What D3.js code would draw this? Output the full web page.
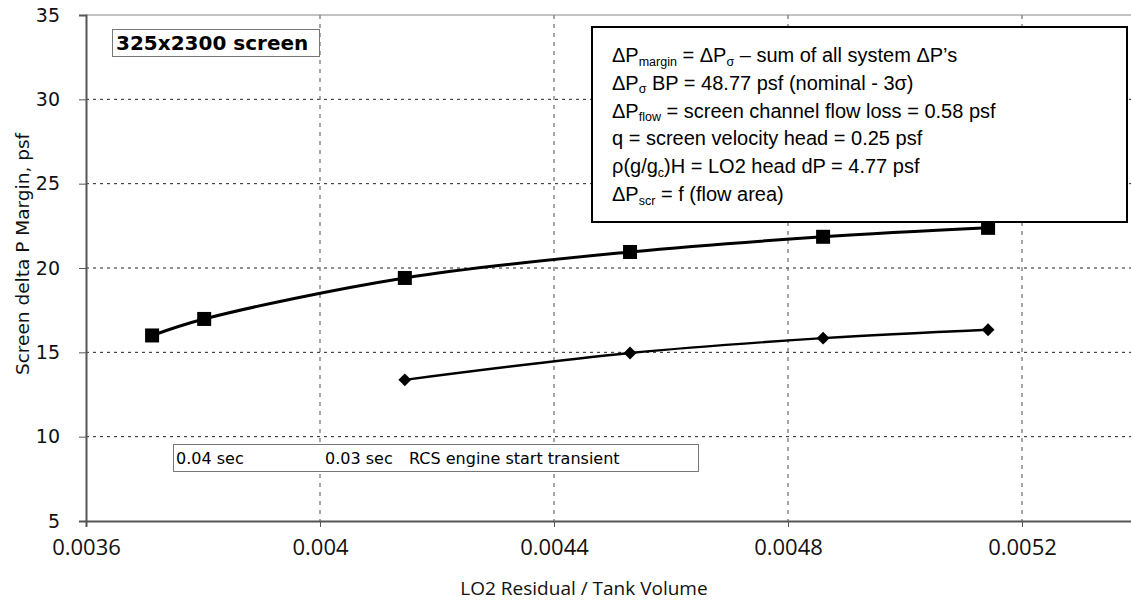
<!DOCTYPE html>
<html><head><meta charset="utf-8">
<script src="https://cdn.jsdelivr.net/npm/d3@7"></script>
<style>body{margin:0;background:#fff}svg{display:block}</style>
</head><body>
<script>
// ---- data ----
const squareX = [0.003713, 0.003802, 0.004145, 0.00453, 0.00486, 0.005142];
const squareY = [16.0, 16.98, 19.41, 20.95, 21.85, 22.38];
const diamondX = [0.004145, 0.00453, 0.00486, 0.005142];
const diamondY = [13.37, 14.96, 15.84, 16.34];
const xTicks = [0.0036, 0.004, 0.0044, 0.0048, 0.0052];
const yTicks = [5, 10, 15, 20, 25, 30, 35];
const xTitle = "LO2 Residual / Tank Volume";
const yTitle = "Screen delta P Margin, psf";
const boxLabel = "325x2300 screen";
const legendTexts = ["0.04 sec", "0.03 sec", "RCS engine start transient"];
const noteLines = [
  [["ΔP",""],["margin","sub"],[" = ΔP",""],["σ","sub"],[" – sum of all system ΔP’s",""]],
  [["ΔP",""],["σ","sub"],[" BP = 48.77 psf (nominal - 3σ)",""]],
  [["ΔP",""],["flow","sub"],[" = screen channel flow loss = 0.58 psf",""]],
  [["q = screen velocity head = 0.25 psf",""]],
  [["ρ(g/g",""],["c","sub"],[")H = LO2 head dP = 4.77 psf",""]],
  [["ΔP",""],["scr","sub"],[" = f (flow area)",""]]
];

const W = 1131, H = 607;
const L = 86, T = 15, B = 521;
const svg = d3.select("body").append("svg").attr("width", W).attr("height", H);

const x = d3.scaleLinear().domain([0.0036, 0.0054]).range([L, L + (1022 - 86) / 1.6 * 1.8]);
const y = d3.scaleLinear().domain([5, 35]).range([B, T]);

// grid
svg.append("g").selectAll("line").data(yTicks.filter(d => d > 5 && d < 35)).join("line")
  .attr("x1", L).attr("x2", W).attr("y1", d => y(d)).attr("y2", d => y(d))
  .attr("stroke", "#222").attr("stroke-width", 1).attr("stroke-dasharray", "3,4");
svg.append("g").selectAll("line").data(xTicks.slice(1)).join("line")
  .attr("x1", d => x(d)).attr("x2", d => x(d)).attr("y1", T).attr("y2", B)
  .attr("stroke", "#777").attr("stroke-width", 1.3).attr("stroke-dasharray", "4,5");

// top border
svg.append("line").attr("x1", L).attr("x2", W).attr("y1", T).attr("y2", T).attr("stroke", "#888").attr("stroke-width", 1);

// axes
const xAxis = d3.axisBottom(x).tickValues(xTicks).tickFormat(d => String(+d.toFixed(4))).tickSize(6).tickPadding(12);
const gx = svg.append("g").attr("transform", `translate(0,${B})`).call(xAxis);
gx.select(".domain").attr("stroke", "#555").attr("stroke-width", 2);
gx.selectAll(".tick line").attr("stroke", "#555").attr("stroke-width", 1);
gx.selectAll("text").attr("font-family", "Open Sans").attr("font-size", 22).attr("fill", "#111");

const yAxis = d3.axisLeft(y).tickValues(yTicks).tickSize(7).tickPadding(19);
const gy = svg.append("g").attr("transform", `translate(${L},0)`).call(yAxis);
gy.select(".domain").attr("stroke", "#555").attr("stroke-width", 2);
gy.selectAll(".tick line").attr("stroke", "#555").attr("stroke-width", 1);
gy.selectAll("text").attr("font-family", "DejaVu Sans").attr("font-size", 19).attr("fill", "#111");

// titles
svg.append("text").attr("x", 584).attr("y", 595).attr("text-anchor", "middle")
  .attr("font-family", "Open Sans").attr("font-size", 19).attr("fill", "#111").text(xTitle);
svg.append("text").attr("transform", "translate(29,254) rotate(-90)").attr("text-anchor", "middle")
  .attr("font-family", "DejaVu Sans").attr("font-size", 18.5).attr("fill", "#111").text(yTitle);

// lines
const line = d3.line().x(d => x(d[0])).y(d => y(d[1])).curve(d3.curveCatmullRom.alpha(0.5));
const sq = squareX.map((v, i) => [v, squareY[i]]);
const dm = diamondX.map((v, i) => [v, diamondY[i]]);
svg.append("path").attr("d", line(sq)).attr("fill", "none").attr("stroke", "#000").attr("stroke-width", 3);
svg.append("path").attr("d", line(dm)).attr("fill", "none").attr("stroke", "#000").attr("stroke-width", 2.4);
svg.append("g").selectAll("rect").data(sq).join("rect")
  .attr("x", d => x(d[0]) - 7).attr("y", d => y(d[1]) - 7).attr("width", 14).attr("height", 14).attr("fill", "#000");
svg.append("g").selectAll("path").data(dm).join("path")
  .attr("d", d3.symbol().type(d3.symbolDiamond2).size(105))
  .attr("transform", d => `translate(${x(d[0])},${y(d[1])})`).attr("fill", "#000");

// label box
svg.append("rect").attr("x", 112.5).attr("y", 29.5).attr("width", 207).attr("height", 27)
  .attr("fill", "#fff").attr("stroke", "#777").attr("stroke-width", 1);
svg.append("text").attr("x", 116).attr("y", 50).attr("font-family", "DejaVu Sans").attr("font-weight", "bold")
  .attr("font-size", 20).attr("fill", "#000").text(boxLabel);

// legend box
svg.append("rect").attr("x", 173.5).attr("y", 444.5).attr("width", 525).attr("height", 27)
  .attr("fill", "#fff").attr("stroke", "#777").attr("stroke-width", 1);
const legX = [176, 325, 409];
svg.append("g").selectAll("text").data(legendTexts).join("text")
  .attr("x", (d, i) => legX[i]).attr("y", 463.5).attr("font-family", "DejaVu Sans").attr("font-size", 16)
  .attr("fill", "#000").text(d => d);

// note box
svg.append("rect").attr("x", 592).attr("y", 27).attr("width", 535).attr("height", 195)
  .attr("fill", "#fff").attr("stroke", "#000").attr("stroke-width", 2);
const noteG = svg.append("g");
noteLines.forEach((parts, i) => {
  const t = noteG.append("text").attr("x", 612).attr("y", 62 + i * 27.8)
    .attr("font-family", "Liberation Sans").attr("font-size", 20).attr("fill", "#000");
  let prevSub = false;
  parts.forEach(p => {
    const s = t.append("tspan").text(p[0]);
    if (p[1] === "sub") { s.attr("font-size", 12.5).attr("dy", 3.5); prevSub = true; }
    else { if (prevSub) s.attr("dy", -3.5); prevSub = false; }
  });
});
</script>
</body></html>
